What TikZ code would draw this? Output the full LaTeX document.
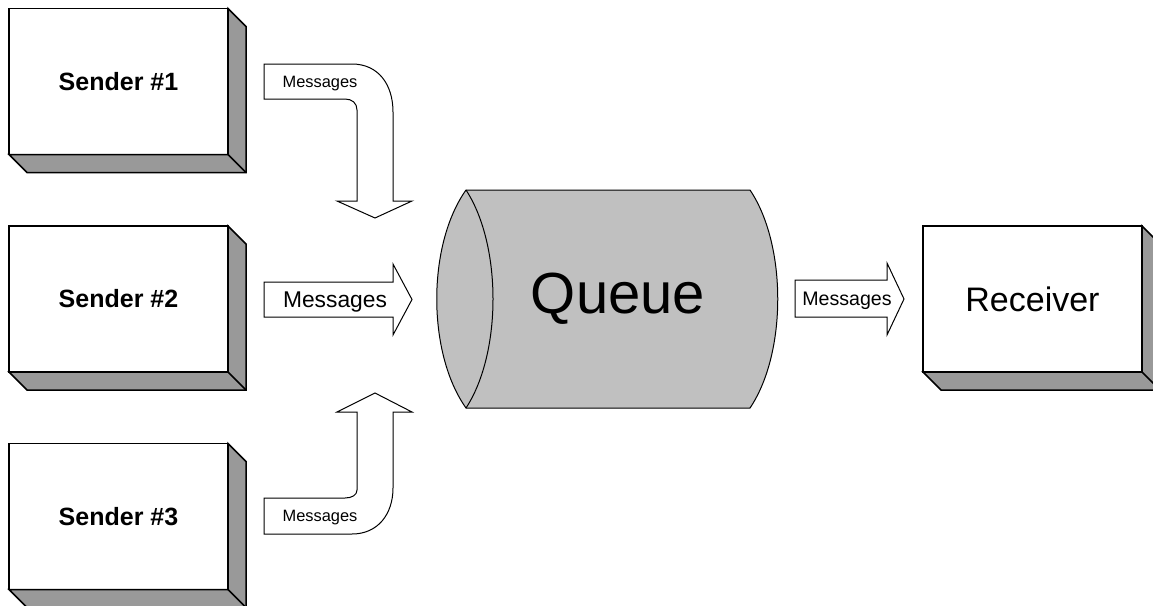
\documentclass[tikz,border=0pt]{standalone}
\usepackage{fontspec}
\setmainfont{Liberation Sans}
\usetikzlibrary{positioning}
\definecolor{sidegray}{HTML}{999999}
\definecolor{queuegray}{HTML}{C0C0C0}
\newcommand{\boxside}[1]{%
  \filldraw[side] (#1.north east) -- ++(18,18) -- ([shift={(18,18)}]#1.south east)
    -- ([shift={(18,18)}]#1.south west) -- (#1.south west) -- (#1.south east) -- cycle;
  \draw[line width=1.5pt] (#1.south east) -- ++(18,18);}
\tikzset{
  box/.style={draw, fill=white, line width=1.5pt, minimum width=219pt,
    minimum height=146pt, outer sep=0pt, inner sep=0pt},
  side/.style={fill=sidegray, draw=black, line width=1.5pt, line join=miter},
  blockarrow/.style={draw, fill=white, line width=1pt, line join=miter},
  msg/.style={inner sep=0pt}
}
\begin{document}
\begin{tikzpicture}[x=1pt, y=-1pt]
    \clip (0,0) rectangle (1153,605);
    \begin{scope}[font=\fontsize{25}{30}\selectfont\bfseries]
      \node[box] (sone) at (118.5,81.5) {Sender \#1};
      \node[box] (stwo) at (118.5,299) {Sender \#2};
      \node[box] (sthree) at (118.5,516.5) {Sender \#3};
    \end{scope}
    \node[box, font=\fontsize{34}{40}\selectfont] (recv) at (1032.5,299) {Receiver};
    \boxside{sone}
    \boxside{stwo}
    \boxside{sthree}
    \boxside{recv}

    \filldraw[fill=queuegray, line width=1pt] (466,190) -- (750,190)
      .. controls (787,245) and (787,353) .. (750,408) -- (466,408)
      .. controls (427,353) and (427,245) .. (466,190) -- cycle;
    \draw[line width=1pt] (466,190) .. controls (502,245) and (502,353) .. (466,408);
    \node[font=\fontsize{58}{66}\selectfont] (queue) at (618,299) {Queue};

    \draw[blockarrow] (264,64) -- (352,64) .. controls (378,64) and (393,84) .. (393,112)
      -- (393,201) -- (412,201) -- (375,218) -- (337,201) -- (357,201) -- (357,110)
      .. controls (357,103) and (352,99) .. (345,99) -- (264,99) -- cycle;
    \draw[blockarrow] (264,282) -- (393,282) -- (393,264) -- (412,299.5) -- (393,335)
      -- (393,317) -- (264,317) -- cycle;
    \draw[blockarrow] (264,534) -- (352,534) .. controls (378,534) and (393,514) .. (393,488)
      -- (393,412) -- (412,412) -- (375,393) -- (337,412) -- (357,412) -- (357,490)
      .. controls (357,495) and (352,498) .. (345,498) -- (264,498) -- cycle;
    \draw[blockarrow] (795,280) -- (887,280) -- (887,263) -- (904,299) -- (887,335)
      -- (887,317) -- (795,317) -- cycle;

    \node[msg, font=\fontsize{16.4}{20}\selectfont] (mone) at (320,83.5) {Messages};
    \node[msg, font=\fontsize{22.8}{27}\selectfont] (mtwo) at (335,302) {Messages};
    \node[msg, font=\fontsize{16.4}{20}\selectfont] (mthree) at (320,517.5) {Messages};
    \node[msg, font=\fontsize{19.6}{24}\selectfont] (mout) at (847,301) {Messages};
\end{tikzpicture}
\end{document}
